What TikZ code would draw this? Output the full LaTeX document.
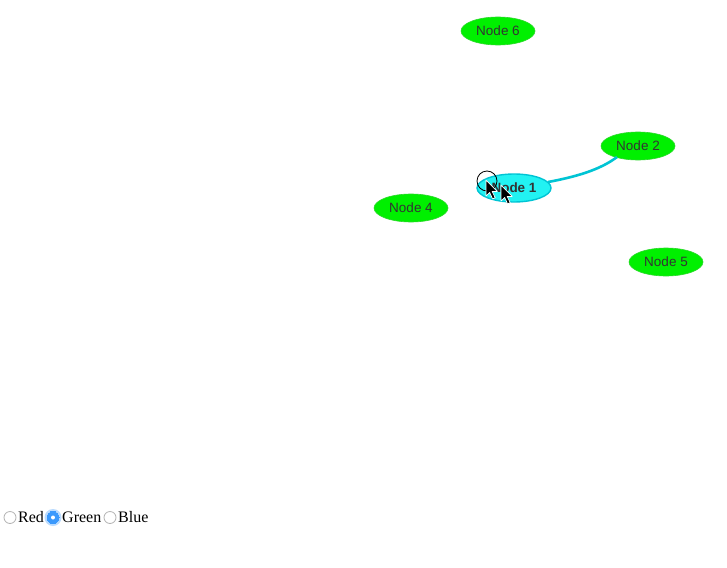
\documentclass[tikz,border=0pt]{standalone}
\usepackage{fontspec}
\setmainfont{Liberation Serif}
\newfontfamily\labelfont{Liberation Sans}
\usetikzlibrary{shapes.geometric}
\definecolor{nodegreen}{HTML}{00F000}
\definecolor{nodeedge}{HTML}{2BD82B}
\definecolor{selfill}{HTML}{22F2F2}
\definecolor{seledge}{HTML}{00C4D4}
\definecolor{linkcol}{HTML}{00C4D4}
\definecolor{radioblue}{HTML}{3B99FC}
\definecolor{labelgrey}{HTML}{333333}
\tikzset{
  graphnode/.style={ellipse, fill=nodegreen, draw=nodeedge, line width=0.6pt,
    minimum width=74pt, minimum height=28pt, inner sep=0pt,
    font=\labelfont\fontsize{13.5}{15}\selectfont, text=labelgrey},
  selnode/.style={graphnode, fill=selfill, draw=seledge, line width=1.4pt,
    font=\labelfont\bfseries\fontsize{13.5}{15}\selectfont},
  link/.style={draw=linkcol, line width=2.6pt},
  radio/.style={circle, draw=black!30, fill=white, line width=0.8pt,
    minimum size=12pt, inner sep=0pt},
  radiolabel/.style={anchor=west, inner sep=0pt, font=\fontsize{16}{18}\selectfont},
  pointer/.style={fill=black, draw=white, line width=0.7pt, line join=round}
}
\begin{document}
\begin{tikzpicture}[x=1pt, y=-1pt]
  \fill[white] (0,0) rectangle (727,567);
  \useasboundingbox (0,0) rectangle (727,567);

  % graph nodes
  \node[graphnode] (n6) at (498,31) {Node 6};
  \node[graphnode] (n2) at (638,146) {Node 2};
  \node[graphnode] (n4) at (411,208) {Node 4};
  \node[graphnode] (n5) at (666,262) {Node 5};

  % link between the selected node and Node 2
  \coordinate (l1) at (548,182);
  \coordinate (l2) at (617,157);
  \draw[link] (l1) .. controls (575,177) and (600,170) .. (l2);

  \node[selnode] (n1) at (514,188) {Node 1};

  % drag marker and pointers
  \node[circle, draw=black, line width=0.8pt, minimum size=20pt, inner sep=0pt] (drag) at (487,181) {};
  \foreach \px/\py [count=\i] in {486/180, 501/185} {
    \coordinate (p\i) at (\px,\py);
    \draw[pointer] (p\i) -- ++(0,16) -- ++(3.6,-3.6) -- ++(3,6.5) -- ++(2.6,-1.2)
      -- ++(-3,-6.3) -- ++(5,0) -- cycle;
  }

  % colour choice
  \node[radio] (rRed) at (10,517.5) {};
  \node[radiolabel] (tRed) at (18,517) {Red};
  \node[circle, fill=radioblue!35, minimum size=17pt, inner sep=0pt] (glow) at (53,517.5) {};
  \node[radio, draw=radioblue, fill=radioblue, line width=0pt] (rGreen) at (53,517.5) {};
  \node[circle, fill=white, minimum size=4pt, inner sep=0pt] (dot) at (rGreen) {};
  \node[radiolabel] (tGreen) at (62,517) {Green};
  \node[radio] (rBlue) at (110,517.5) {};
  \node[radiolabel] (tBlue) at (118,517) {Blue};
\end{tikzpicture}
\end{document}
